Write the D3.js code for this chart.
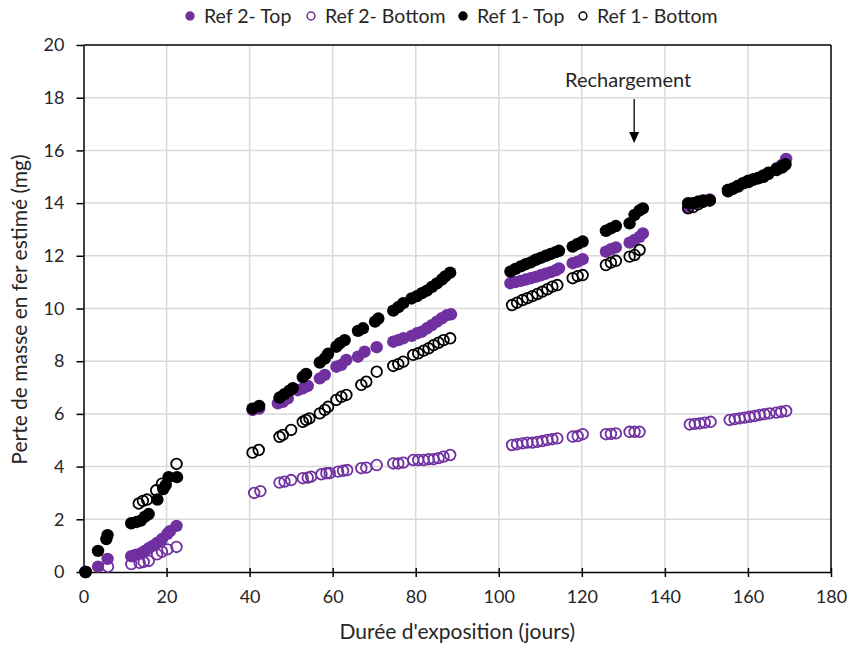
<!DOCTYPE html>
<html><head><meta charset="utf-8">
<script src="https://cdn.jsdelivr.net/npm/d3@7"></script>
<style>
body{margin:0;background:#fff}
text{font-family:Lato,"Open Sans",sans-serif;fill:#262626}
</style>
</head><body>
<svg id="chart" width="850" height="645"></svg>
<script>
const seriesNames = ["Ref 2- Top", "Ref 2- Bottom", "Ref 1- Top", "Ref 1- Bottom"];
const xTicks = [0, 20, 40, 60, 80, 100, 120, 140, 160, 180];
const yTicks = [0, 2, 4, 6, 8, 10, 12, 14, 16, 18, 20];

const ref2TopDays = [0.5, 3.5, 5.8, 11.5, 12.5, 13.7, 14.8, 15.7, 16.8, 17.7, 18.9, 20.2, 20.8, 22.4,
  40.7, 42.3, 46.8, 48.0, 49.2, 51.6, 52.8, 54.0, 56.9, 58.1, 60.9, 62.1, 63.3, 66.1, 67.7, 70.6, 74.6, 75.8, 77.0, 79.0, 80.3, 81.5, 82.7, 83.9, 85.1, 86.3, 87.5, 88.5,
  102.8, 104.0, 105.3, 106.5, 107.7, 108.9, 110.1, 111.3, 112.5, 113.7, 114.5, 117.8, 119.0, 120.2, 125.8, 127.0, 128.2, 131.5, 132.7, 133.9, 134.7,
  145.6, 146.8, 148.0, 149.2, 150.8, 155.2, 156.4, 157.6, 158.8, 160.1, 161.3, 162.5, 163.7, 164.9, 166.9, 168.2, 169.2];
const ref2TopMass = [0, 0.2, 0.5, 0.6, 0.65, 0.7, 0.8, 0.9, 1.0, 1.1, 1.25, 1.45, 1.55, 1.75,
  6.15, 6.2, 6.4, 6.46, 6.59, 6.9, 6.97, 7.06, 7.35, 7.48, 7.79, 7.86, 8.05, 8.17, 8.36, 8.53, 8.74, 8.8, 8.87, 8.96, 9.06, 9.12, 9.25, 9.37, 9.5, 9.63, 9.75, 9.78,
  10.96, 11.0, 11.05, 11.1, 11.15, 11.2, 11.26, 11.32, 11.38, 11.45, 11.52, 11.72, 11.78, 11.87, 12.16, 12.25, 12.32, 12.5, 12.6, 12.72, 12.85,
  13.85, 13.99, 14.05, 14.08, 14.14, 14.5, 14.56, 14.62, 14.75, 14.81, 14.88, 14.94, 15.0, 15.13, 15.32, 15.45, 15.68];

const ref2BottomDays = [0.5, 5.9, 11.5, 13.5, 14.5, 15.7, 17.7, 18.9, 20.2, 22.4,
  41.1, 42.6, 47.2, 48.4, 50.0, 52.8, 54.0, 54.8, 57.3, 58.5, 59.3, 61.3, 62.5, 63.5, 66.9, 68.1, 70.6, 74.6, 75.8, 77.0, 79.4, 80.6, 81.9, 83.1, 84.3, 85.5, 86.7, 88.3,
  103.2, 104.4, 105.7, 106.9, 108.1, 109.3, 110.5, 111.7, 112.9, 114.1, 117.8, 119.0, 120.2, 125.8, 127.0, 128.2, 131.5, 132.7, 133.9,
  146.0, 147.2, 148.4, 149.6, 151.0, 155.6, 156.8, 158.0, 159.2, 160.4, 161.6, 162.8, 164.0, 165.2, 166.8, 168.0, 169.2];
const ref2BottomMass = [0, 0.2, 0.3, 0.35, 0.38, 0.42, 0.67, 0.77, 0.86, 0.95,
  3.0, 3.07, 3.39, 3.43, 3.49, 3.56, 3.58, 3.62, 3.71, 3.75, 3.75, 3.81, 3.84, 3.87, 3.94, 3.96, 4.06, 4.12, 4.12, 4.15, 4.25, 4.25, 4.25, 4.28, 4.28, 4.32, 4.38, 4.44,
  4.82, 4.85, 4.88, 4.91, 4.91, 4.94, 4.97, 5.01, 5.04, 5.07, 5.14, 5.16, 5.23, 5.23, 5.24, 5.26, 5.32, 5.32, 5.32,
  5.6, 5.62, 5.64, 5.67, 5.7, 5.77, 5.8, 5.83, 5.86, 5.89, 5.92, 5.96, 5.99, 6.02, 6.05, 6.08, 6.11];

const ref1TopDays = [0.5, 3.5, 5.5, 5.8, 11.5, 12.8, 13.8, 14.8, 15.7, 17.8, 19.2, 19.8, 20.5, 22.5,
  40.7, 42.3, 47.2, 48.4, 49.6, 50.4, 52.8, 53.6, 56.9, 58.1, 58.9, 60.9, 61.7, 62.9, 66.1, 67.3, 70.2, 71.0, 74.6, 75.8, 77.0, 79.0, 80.3, 81.5, 82.7, 83.9, 85.1, 86.3, 87.1, 88.3,
  102.8, 104.0, 105.3, 106.5, 107.7, 108.9, 110.1, 111.3, 112.5, 113.7, 114.5, 117.8, 119.0, 120.2, 125.8, 127.0, 128.2, 131.5, 132.7, 133.9, 134.7,
  145.6, 146.8, 148.0, 149.2, 150.8, 155.2, 156.4, 157.6, 158.8, 160.1, 161.3, 162.5, 163.7, 164.9, 166.9, 168.2, 169.0];
const ref1TopMass = [0, 0.8, 1.25, 1.4, 1.85, 1.9, 1.95, 2.1, 2.2, 2.75, 3.15, 3.3, 3.6, 3.6,
  6.2, 6.3, 6.62, 6.75, 6.88, 6.98, 7.4, 7.52, 7.95, 8.1, 8.28, 8.55, 8.68, 8.8, 9.15, 9.25, 9.5, 9.62, 9.92, 10.05, 10.2, 10.38, 10.47, 10.58, 10.68, 10.82, 10.95, 11.1, 11.22, 11.36,
  11.4, 11.5, 11.6, 11.68, 11.75, 11.85, 11.92, 12.0, 12.07, 12.14, 12.19, 12.35, 12.45, 12.54, 12.95, 13.04, 13.13, 13.23, 13.55, 13.72, 13.8,
  14.0, 14.0, 14.05, 14.1, 14.1, 14.5, 14.55, 14.65, 14.75, 14.85, 14.9, 14.95, 15.05, 15.15, 15.3, 15.4, 15.48];

const ref1BottomDays = [0.5, 13.3, 14.3, 15.3, 17.5, 18.9, 22.4,
  40.7, 42.2, 47.2, 48.0, 50.0, 52.8, 53.6, 54.4, 56.9, 58.1, 58.9, 60.9, 62.1, 63.3, 66.9, 68.1, 70.6, 74.6, 75.8, 77.0, 79.4, 80.6, 81.9, 83.1, 84.3, 85.5, 86.7, 88.3,
  103.2, 104.4, 105.7, 106.9, 108.1, 109.3, 110.5, 111.7, 112.9, 114.1, 117.8, 119.0, 120.2, 125.8, 127.0, 128.2, 131.5, 132.7, 133.9,
  145.6, 146.8, 148.0, 149.2, 150.8, 155.2, 156.4, 157.6, 158.8, 160.1, 161.3, 162.5, 163.7, 164.9, 166.9, 168.2, 169.0];
const ref1BottomMass = [0, 2.6, 2.7, 2.75, 3.1, 3.35, 4.1,
  4.53, 4.63, 5.13, 5.2, 5.39, 5.7, 5.77, 5.83, 6.02, 6.15, 6.27, 6.53, 6.65, 6.72, 7.1, 7.22, 7.6, 7.82, 7.89, 7.98, 8.24, 8.3, 8.4, 8.49, 8.61, 8.7, 8.8, 8.87,
  10.13, 10.22, 10.32, 10.39, 10.47, 10.55, 10.64, 10.73, 10.83, 10.89, 11.15, 11.23, 11.27, 11.65, 11.74, 11.81, 11.97, 12.03, 12.22,
  13.8, 13.85, 13.95, 14.05, 14.1, 14.45, 14.55, 14.65, 14.75, 14.8, 14.9, 14.95, 15.0, 15.1, 15.25, 15.35, 15.45];

const annotationText = "Rechargement";
const annotationDay = 132.6;

const purple = "#7030A0";
const series = [
  {name: seriesNames[0], days: ref2TopDays, mass: ref2TopMass, color: purple, filled: true},
  {name: seriesNames[1], days: ref2BottomDays, mass: ref2BottomMass, color: purple, filled: false},
  {name: seriesNames[2], days: ref1TopDays, mass: ref1TopMass, color: "#000000", filled: true},
  {name: seriesNames[3], days: ref1BottomDays, mass: ref1BottomMass, color: "#000000", filled: false}
];

const svg = d3.select("#chart");
const m = {left: 83.5, right: 831, top: 45, bottom: 572};
const x = d3.scaleLinear().domain([0, 180]).range([m.left, m.right]);
const y = d3.scaleLinear().domain([0, 20]).range([m.bottom, m.top]);

// gridlines
const grid = svg.append("g");
grid.selectAll(".vg").data(xTicks.slice(1, -1)).enter().append("line")
  .attr("x1", d => x(d)).attr("x2", d => x(d)).attr("y1", m.top).attr("y2", m.bottom)
  .attr("stroke", "#d9d9d9").attr("stroke-width", 1.5);
grid.selectAll(".hg").data(yTicks.slice(1, -1)).enter().append("line")
  .attr("y1", d => y(d)).attr("y2", d => y(d)).attr("x1", m.left).attr("x2", m.right)
  .attr("stroke", "#d9d9d9").attr("stroke-width", 1.5);

// frame top/right
svg.append("line").attr("x1", m.left).attr("x2", m.right).attr("y1", m.top).attr("y2", m.top).attr("stroke", "#000").attr("stroke-width", 1.5);
svg.append("line").attr("x1", m.right).attr("x2", m.right).attr("y1", m.top).attr("y2", m.bottom).attr("stroke", "#000").attr("stroke-width", 1.5);

// axes
const xAxis = d3.axisBottom(x).tickValues(xTicks).tickSizeInner(5).tickSizeOuter(0).tickPadding(13);
const yAxis = d3.axisLeft(y).tickValues(yTicks).tickSizeInner(7).tickSizeOuter(0).tickPadding(12);
const gx = svg.append("g").attr("transform", `translate(0,${m.bottom})`).call(xAxis);
const gy = svg.append("g").attr("transform", `translate(${m.left},0)`).call(yAxis);
[gx, gy].forEach(g => {
  g.select(".domain").attr("stroke", "#000").attr("stroke-width", 1.5);
  g.selectAll(".tick line").attr("stroke", "#000").attr("stroke-width", 1.5);
  g.selectAll(".tick text").style("font-size", "18px").style("font-family", "Lato").attr("fill", "#262626");
});
gx.selectAll(".tick line").attr("y1", -4).attr("y2", 5);

// axis titles
svg.append("text").attr("x", (m.left + m.right) / 2).attr("y", 639).attr("text-anchor", "middle")
  .style("font-size", "21px").text("Durée d'exposition (jours)");
svg.append("text").attr("transform", `translate(27,${(m.top + m.bottom) / 2 + 1}) rotate(-90)`).attr("text-anchor", "middle")
  .style("font-size", "21px").text("Perte de masse en fer estimé (mg)");

// points
series.forEach(s => {
  const pts = s.days.map((d, i) => [d, s.mass[i]]);
  svg.append("g").selectAll("circle").data(pts).enter().append("circle")
    .attr("cx", d => x(d[0])).attr("cy", d => y(d[1]))
    .attr("r", s.filled ? 6.2 : 5.3)
    .attr("fill", s.filled ? s.color : "none")
    .attr("stroke", s.color).attr("stroke-width", s.filled ? 0 : 1.8);
});

// annotation
svg.append("text").attr("x", x(annotationDay) - 6).attr("y", 87).attr("text-anchor", "middle")
  .style("font-size", "20px").text(annotationText);
svg.append("line").attr("x1", x(annotationDay)).attr("x2", x(annotationDay)).attr("y1", 99).attr("y2", 133)
  .attr("stroke", "#000").attr("stroke-width", 1.3);
svg.append("path").attr("d", `M${x(annotationDay) - 5},132 L${x(annotationDay) + 5},132 L${x(annotationDay)},143 Z`).attr("fill", "#000");

// legend
const legendX = [190, 311, 463, 583];
const lg = svg.append("g");
series.forEach((s, i) => {
  lg.append("circle").attr("cx", legendX[i]).attr("cy", 16).attr("r", s.filled ? 4.7 : 3.9)
    .attr("fill", s.filled ? s.color : "none").attr("stroke", s.color).attr("stroke-width", s.filled ? 0 : 1.5);
  lg.append("text").attr("x", legendX[i] + 14).attr("y", 23).style("font-size", "19.5px").text(s.name);
});
</script>
</body></html>
